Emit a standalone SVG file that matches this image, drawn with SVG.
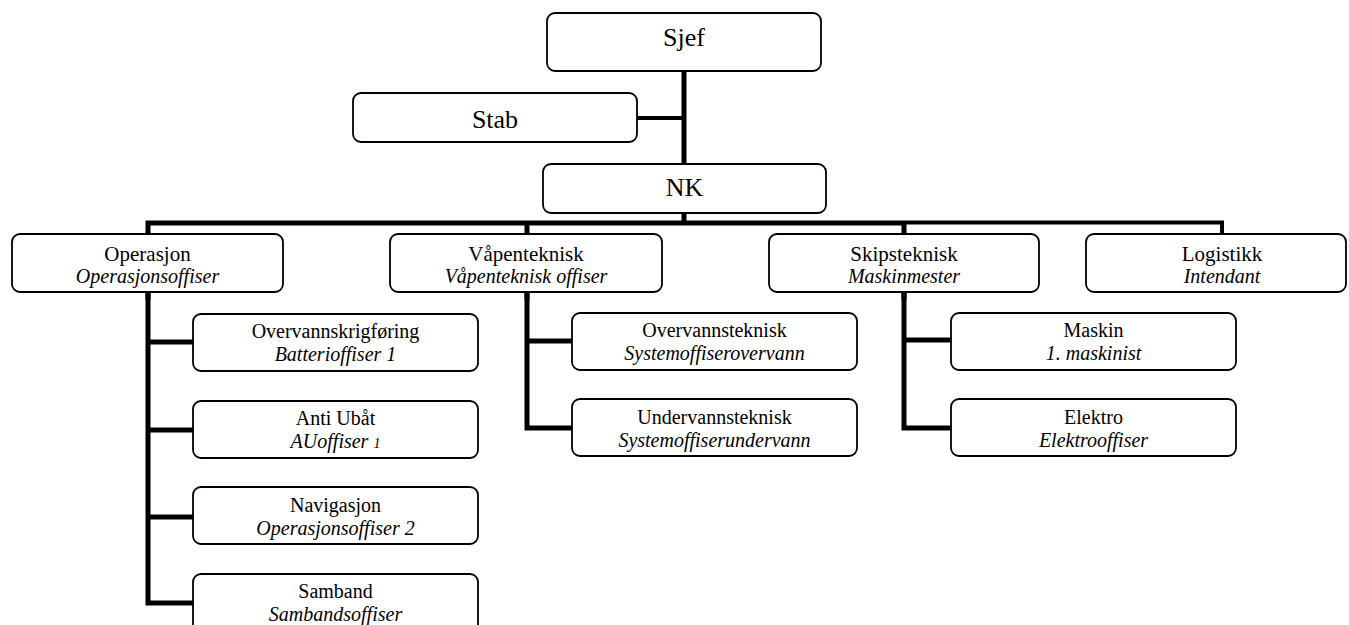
<svg xmlns="http://www.w3.org/2000/svg" width="1349" height="625" viewBox="0 0 1349 625">
<style>
.box{fill:#fff;stroke:#000;stroke-width:1.8}
.ln{fill:none;stroke:#000;stroke-width:5;stroke-linejoin:miter;stroke-linecap:butt}
.thin{stroke-width:4}
text{font-family:"Liberation Serif","Times New Roman",serif;fill:#000;text-anchor:middle}
.t0{font-size:26px}
.t1{font-size:21px}
.t2{font-size:20px}
.it{font-style:italic;font-size:20px}
</style>
<rect width="1349" height="625" fill="#fff"/>
<g id="connectors">
<path class="ln" d="M684,71 V164"/>
<path class="ln thin" d="M637,118 H684"/>
<path class="ln" d="M684,213 V223"/>
<path class="ln" d="M148,300 V223 H904"/>
<path class="ln thin" d="M904,222.5 H1222 V234"/>
<path class="ln" d="M527,223 V300"/>
<path class="ln" d="M904,223 V300"/>
<path class="ln" d="M148,290 V603 H193"/>
<path class="ln" d="M148,342 H193"/>
<path class="ln" d="M148,430 H193"/>
<path class="ln" d="M148,517 H193"/>
<path class="ln" d="M527,290 V428 H572"/>
<path class="ln" d="M527,341 H572"/>
<path class="ln" d="M904,290 V428 H951"/>
<path class="ln" d="M904,340 H951"/>
</g>
<g id="sjef"><rect class="box" x="547" y="13" width="274" height="58" rx="8"/><text class="t0" x="684" y="46">Sjef</text></g>
<g id="stab"><rect class="box" x="353" y="93" width="284" height="49" rx="8"/><text class="t0" x="495" y="128">Stab</text></g>
<g id="nk"><rect class="box" x="543" y="164" width="283" height="49" rx="8"/><text class="t0" x="684.5" y="196">NK</text></g>
<g id="operasjon"><rect class="box" x="12" y="234" width="271" height="58" rx="8"/><text class="t1" x="147.5" y="261">Operasjon</text><text class="it" x="147.5" y="283">Operasjonsoffiser</text></g>
<g id="vapenteknisk"><rect class="box" x="390" y="234" width="272" height="58" rx="8"/><text class="t1" x="526" y="261">Våpenteknisk</text><text class="it" x="526" y="283">Våpenteknisk offiser</text></g>
<g id="skipsteknisk"><rect class="box" x="769" y="234" width="270" height="58" rx="8"/><text class="t1" x="904" y="261">Skipsteknisk</text><text class="it" x="904" y="283">Maskinmester</text></g>
<g id="logistikk"><rect class="box" x="1086" y="234" width="260" height="58" rx="8"/><text class="t1" x="1222" y="261">Logistikk</text><text class="it" x="1222" y="283">Intendant</text></g>
<g id="overvannskrigforing"><rect class="box" x="193" y="314" width="285" height="57" rx="8"/><text class="t2" x="335.5" y="338">Overvannskrigføring</text><text class="it" x="335.5" y="361">Batterioffiser 1</text></g>
<g id="antiubat"><rect class="box" x="193" y="401" width="285" height="57" rx="8"/><text class="t2" x="335.5" y="425">Anti Ubåt</text><text class="it" x="335.5" y="448">AUoffiser <tspan style="font-size:14px">1</tspan></text></g>
<g id="navigasjon"><rect class="box" x="193" y="487" width="285" height="57" rx="8"/><text class="t2" x="335.5" y="512">Navigasjon</text><text class="it" x="335.5" y="535">Operasjonsoffiser 2</text></g>
<g id="samband"><rect class="box" x="193" y="574" width="285" height="60" rx="8"/><text class="t2" x="335.5" y="598">Samband</text><text class="it" x="335.5" y="621">Sambandsoffiser</text></g>
<g id="overvannsteknisk"><rect class="box" x="572" y="313" width="285" height="57" rx="8"/><text class="t2" x="714.5" y="337">Overvannsteknisk</text><text class="it" x="714.5" y="360">Systemoffiserovervann</text></g>
<g id="undervannsteknisk"><rect class="box" x="572" y="399" width="285" height="57" rx="8"/><text class="t2" x="714.5" y="424">Undervannsteknisk</text><text class="it" x="714.5" y="447">Systemoffiserundervann</text></g>
<g id="maskin"><rect class="box" x="951" y="313" width="285" height="57" rx="8"/><text class="t2" x="1093.5" y="337">Maskin</text><text class="it" x="1093.5" y="360">1. maskinist</text></g>
<g id="elektro"><rect class="box" x="951" y="399" width="285" height="57" rx="8"/><text class="t2" x="1093.5" y="424">Elektro</text><text class="it" x="1093.5" y="447">Elektrooffiser</text></g>
</svg>
